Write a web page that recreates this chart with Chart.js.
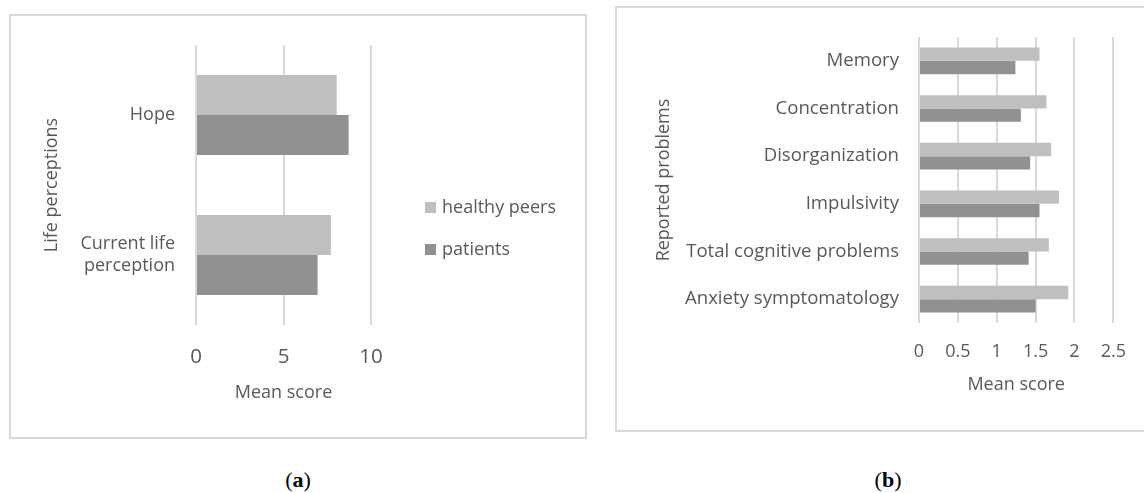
<!DOCTYPE html>
<html>
<head>
<meta charset="utf-8">
<script src="https://cdn.jsdelivr.net/npm/chart.js@4.4.0/dist/chart.umd.min.js"></script>
<style>
  html, body { margin: 0; padding: 0; background: #fff; }
  body { width: 1144px; height: 493px; position: relative; overflow: hidden; font-family: "Open Sans", sans-serif; }
  .box { position: absolute; border: 2px solid #d9d9d9; box-sizing: border-box; }
  .cv { position: absolute; }
  .legend { position: absolute; left: 425px; color: #595959; font-size: 18px; }
  .legend div { height: 42px; line-height: 22px; white-space: nowrap; }
  .legend span { display: inline-block; width: 11px; height: 11px; margin-right: 6px; vertical-align: 0px; }
  .cap { position: absolute; top: 467px; font-family: "Liberation Serif", serif; font-size: 22px; color: #000; transform: translateX(-50%); }
</style>
</head>
<body>
<div class="box" style="left:9px; top:14px; width:578px; height:425px;"></div>
<div class="box" style="left:615px; top:6px; width:540px; height:426px;"></div>

<div class="cv" style="left:10px; top:15px; width:576px; height:423px;"><canvas id="chartA"></canvas></div>
<div class="cv" style="left:616px; top:7px; width:528px; height:423px;"><canvas id="chartB"></canvas></div>

<div class="legend" style="top:195px;">
  <div><span style="background:#bfbfbf"></span>healthy peers</div>
  <div><span style="background:#919191"></span>patients</div>
</div>

<div class="cap" style="left:298px;">(<b>a</b>)</div>
<div class="cap" style="left:888px;">(<b>b</b>)</div>

<script>
// (a) life perceptions
const lifeLabels = ['Hope', ['Current life', 'perception']];
const lifeHealthy = [8.04, 7.71];
const lifePatients = [8.72, 6.95];
const lifeTicks = [0, 5, 10];

// (b) reported problems
const probLabels = ['Memory', 'Concentration', 'Disorganization', 'Impulsivity', 'Total cognitive problems', 'Anxiety symptomatology'];
const probHealthy = [1.55, 1.64, 1.70, 1.80, 1.67, 1.92];
const probPatients = [1.24, 1.31, 1.43, 1.55, 1.41, 1.50];
const probTicks = [0, 0.5, 1, 1.5, 2, 2.5];

const textColor = '#595959';
const gridColor = '#d9d9d9';
const lightGray = '#bfbfbf';
const darkGray = '#919191';

Chart.defaults.font.family = '"Open Sans", sans-serif';
Chart.defaults.color = textColor;

function makeChart(id, labels, healthy, patients, ticks, opt) {
  return new Chart(document.getElementById(id), {
    type: 'bar',
    data: {
      labels: labels,
      datasets: [
        { label: 'healthy peers', data: healthy, backgroundColor: lightGray },
        { label: 'patients', data: patients, backgroundColor: darkGray },
      ],
    },
    options: {
      indexAxis: 'y',
      responsive: true,
      maintainAspectRatio: false,
      animation: false,
      categoryPercentage: opt.catPct,
      barPercentage: 1,
      layout: { padding: { left: 0, right: opt.padRight, top: opt.padTop, bottom: 0 } },
      plugins: { legend: { display: false }, tooltip: { enabled: false } },
      scales: {
        x: {
          min: ticks[0],
          max: ticks[ticks.length - 1],
          afterBuildTicks: (s) => { s.ticks = ticks.map((v) => ({ value: v })); },
          afterFit: (s) => { s.height = opt.xHeight; },
          grid: { color: gridColor, lineWidth: 2, drawTicks: false },
          border: { display: false },
          ticks: { padding: opt.xTickPad, font: { size: opt.xTickSize }, color: textColor, callback: (v) => String(v) },
          title: { display: true, text: 'Mean score', font: { size: 18 }, color: textColor, padding: { top: 0, bottom: 34 } },
        },
        y: {
          afterFit: (s) => { s.width = opt.yWidth; s.paddingTop = 0; s.paddingBottom = 0; },
          grid: { display: false, drawTicks: false },
          border: { display: false },
          ticks: { padding: opt.yTickPad, font: { size: opt.yTickSize }, color: textColor },
          title: { display: true, text: opt.yTitle, font: { size: 18 }, color: textColor, padding: { top: opt.yTitlePad, bottom: 0 } },
        },
      },
    },
  });
}

makeChart('chartA', lifeLabels, lifeHealthy, lifePatients, lifeTicks, {
  catPct: 0.571, padRight: 215, padTop: 30, xHeight: 113, yWidth: 186,
  xTickPad: 20, xTickSize: 20.5, yTickPad: 21, yTickSize: 18, yTitle: 'Life perceptions', yTitlePad: 31,
});

makeChart('chartB', probLabels, probHealthy, probPatients, probTicks, {
  catPct: 0.56, padRight: 29, padTop: 30, xHeight: 107, yWidth: 303,
  xTickPad: 18, xTickSize: 18, yTickPad: 20, yTickSize: 18.6, yTitle: 'Reported problems', yTitlePad: 37,
});
</script>
</body>
</html>
